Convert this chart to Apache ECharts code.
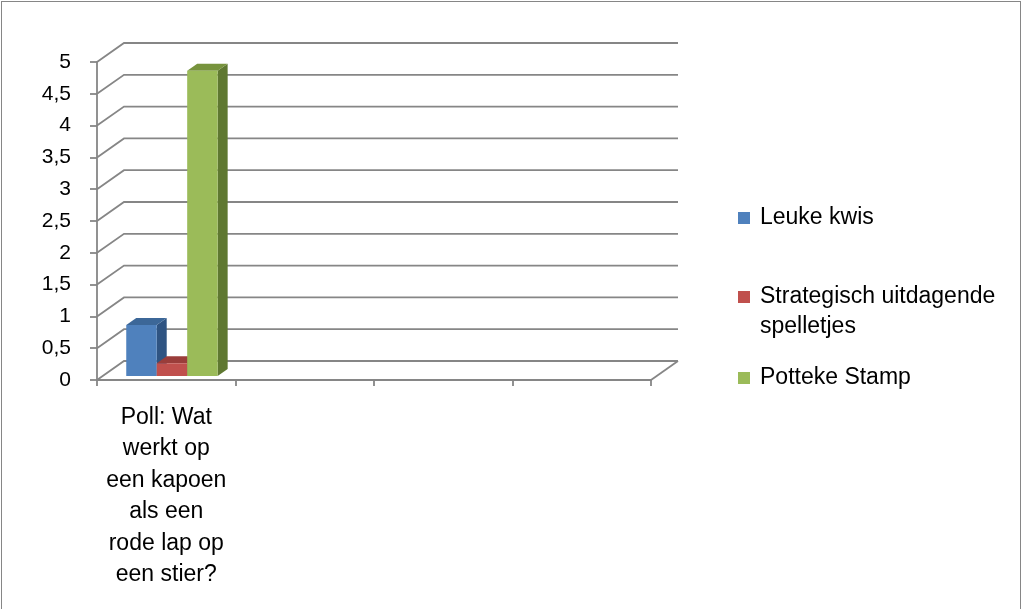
<!DOCTYPE html>
<html>
<head>
<meta charset="utf-8">
<script src="https://cdn.jsdelivr.net/npm/echarts@6/dist/echarts.min.js"></script>
<style>
html,body{margin:0;padding:0;background:#fff;}
#wrap{position:relative;width:1023px;height:609px;}
#chart{position:absolute;left:0;top:0;width:1023px;height:609px;}
#frame{position:absolute;left:1px;top:1px;width:1020px;height:620px;border:1px solid #868686;box-sizing:border-box;pointer-events:none;}
</style>
</head>
<body>
<div id="wrap"><div id="chart"></div><div id="frame"></div></div>
<script>
// ---- data ----
const categories = ['Poll: Wat\nwerkt op\neen kapoen\nals een\nrode lap op\neen stier?', '', '', ''];
const seriesNames = ['Leuke kwis', 'Strategisch uitdagende spelletjes', 'Potteke Stamp'];
const leukeKwis = [0.8];
const strategisch = [0.2];
const pottekeStamp = [4.8];
const yTicks = [0, 0.5, 1, 1.5, 2, 2.5, 3, 3.5, 4, 4.5, 5];

// ---- style ----
const FONT = 'Liberation Sans';
const GRIDC = '#868686';
const DEPTH = [27, -19];        // back wall offset
const BAR_SHIFT = [5.7, -4];    // bar front plane offset
const BAR_DEPTH = [10, -7];     // bar side depth
const palettes = [
  {front: '#4f81bd', top: '#3c6798', side: '#2f5482'},
  {front: '#c0504d', top: '#9a3d3a', side: '#7e2f2d'},
  {front: '#9bbb59', top: '#77933d', side: '#5f7831'}
];

function barRenderer(idx) {
  const pal = palettes[idx];
  return function (params, api) {
    const cat = api.value(0), val = api.value(1);
    const base = api.coord([cat, 0]);
    const top = api.coord([cat, val]);
    const band = api.size([1, 0])[0];
    const bw = band * 0.22;
    const x0 = base[0] - bw * 1.5 + idx * bw + BAR_SHIFT[0];
    const x1 = x0 + bw;
    const yb = base[1] + BAR_SHIFT[1];
    const yt = top[1] + BAR_SHIFT[1];
    const dx = BAR_DEPTH[0], dy = BAR_DEPTH[1];
    return {
      type: 'group',
      children: [
        {type: 'polygon', shape: {points: [[x1, yb], [x1 + dx, yb + dy], [x1 + dx, yt + dy], [x1, yt]]}, style: {fill: pal.side}},
        {type: 'polygon', shape: {points: [[x0, yt], [x0 + dx, yt + dy], [x1 + dx, yt + dy], [x1, yt]]}, style: {fill: pal.top}},
        {type: 'rect', shape: {x: x0, y: yt, width: bw, height: yb - yt}, style: {fill: pal.front}}
      ]
    };
  };
}

function gridRenderer(params, api) {
  const v = api.value(1);
  const cs = params.coordSys;
  const y = api.coord([0, v])[1];
  const xl = cs.x, xr = cs.x + cs.width;
  const children = [{
    type: 'polyline',
    shape: {points: [[xl, y], [xl + DEPTH[0], y + DEPTH[1]], [xr + DEPTH[0], y + DEPTH[1]]]},
    style: {stroke: GRIDC, lineWidth: 1.8, fill: null}
  }];
  if (v === 0) {
    children.push({type: 'line', shape: {x1: xr, y1: y, x2: xr + DEPTH[0], y2: y + DEPTH[1]},
      style: {stroke: GRIDC, lineWidth: 1.8}});
  }
  return {type: 'group', children: children};
}

const seriesData = [leukeKwis, strategisch, pottekeStamp];
const series = [{
  type: 'custom', name: '_grid', silent: true, z: 1, clip: false,
  data: yTicks.map(v => [0, v]), renderItem: gridRenderer
}];
seriesNames.forEach((n, i) => {
  series.push({
    type: 'custom', name: n, z: 5, clip: false,
    itemStyle: {color: palettes[i].front},
    data: seriesData[i].map((v, k) => [k, v]),
    renderItem: barRenderer(i)
  });
});

const legendText = {fontFamily: FONT, fontSize: 23, color: '#000', lineHeight: 30, padding: [0, 0, 0, 5]};
const chart = echarts.init(document.getElementById('chart'));
chart.setOption({
  animation: false,
  textStyle: {fontFamily: FONT},
  grid: {left: 97, right: 372, top: 62, bottom: 229},
  xAxis: {
    type: 'category', data: categories,
    axisLine: {show: true, lineStyle: {color: GRIDC, width: 1.8}},
    axisTick: {show: true, length: 6, lineStyle: {color: GRIDC, width: 1.8}},
    axisLabel: {interval: 0, fontSize: 23, lineHeight: 31.4, color: '#000', margin: 22, fontFamily: FONT},
    splitLine: {show: false}
  },
  yAxis: {
    type: 'value', min: 0, max: 5, interval: 0.5,
    axisLine: {show: true, lineStyle: {color: GRIDC, width: 1.8}},
    axisTick: {show: true, length: 7, lineStyle: {color: GRIDC, width: 1.8}},
    axisLabel: {fontSize: 21, color: '#000', margin: 26, fontFamily: FONT,
      formatter: v => String(v).replace('.', ',')},
    splitLine: {show: false}
  },
  legend: [
    {data: [seriesNames[0]], left: 738, top: 203, padding: 0, itemWidth: 12, itemHeight: 12, icon: 'rect', itemGap: 0, textStyle: legendText, selectedMode: false},
    {data: [seriesNames[1]], left: 738, top: 252, padding: 0, itemWidth: 12, itemHeight: 12, icon: 'rect', itemGap: 0,
      formatter: n => ' \n' + n.replace('uitdagende ', 'uitdagende\n'),
      textStyle: legendText, selectedMode: false},
    {data: [seriesNames[2]], left: 738, top: 363, padding: 0, itemWidth: 12, itemHeight: 12, icon: 'rect', itemGap: 0, textStyle: legendText, selectedMode: false}
  ],
  series: series
});
</script>
</body>
</html>
